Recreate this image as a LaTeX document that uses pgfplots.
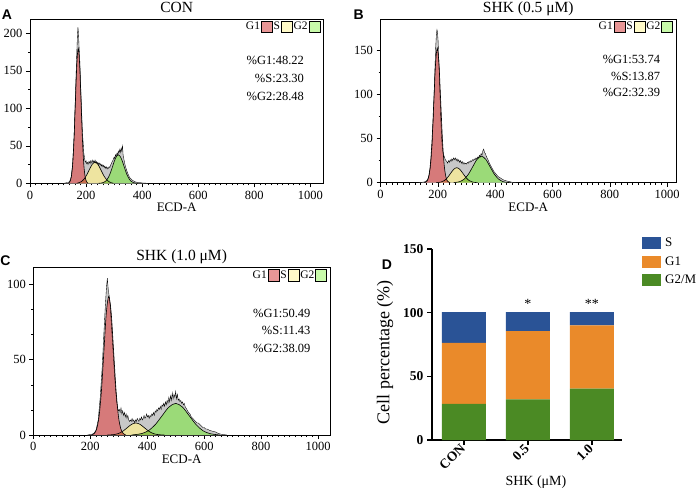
\documentclass[border=0pt]{standalone}
\usepackage{pgfplots}
\pgfplotsset{compat=1.18}
\usepackage{pgfplotstable}
\usepackage{fontspec}
\setmainfont{Liberation Serif}
\newfontfamily\sansf{Liberation Sans}

\definecolor{g1fill}{RGB}{214,122,122}
\definecolor{sfill}{RGB}{238,228,160}
\definecolor{g2fill}{RGB}{155,218,120}
\definecolor{g1leg}{RGB}{232,150,150}
\definecolor{sleg}{RGB}{255,250,200}
\definecolor{g2leg}{RGB}{200,250,170}
\definecolor{histgray}{RGB}{200,200,200}
\definecolor{barS}{RGB}{42,83,150}
\definecolor{barG1}{RGB}{234,138,42}
\definecolor{barG2}{RGB}{75,138,36}

% ---------------- Panel A data ----------------
\pgfplotstableread{
x y
120 0
127 0.5
132 1
137 1
142 3
147 9
152 26
157 62
162 118
166 165
169 196
171 208
173 200
175 182
177 170
182 118
187 68
190 52
192 40
195 33
197 28
200 30
202 26
205 28
207 25
210 29
212 27
215 30
217 26
220 29
222 31
225 27
227 30
230 28
232 31
235 27
237 29
240 26
242 28
245 25
247 27
250 24
252 26
255 23
257 25
260 22
262 24
265 21
267 23
270 20
272 22
275 19
277 21
280 20
282 22
285 21
287 24
290 26
292 28
295 30
297 32
300 35
302 33
305 38
307 36
310 40
312 38
315 43
317 40
320 45
322 41
325 47
327 43
330 50
332 38
335 32
337 28
340 23
345 17
350 12
355 8
360 6
365 4
370 3
375 2
380 1.5
390 1
400 0.5
420 0
}\Ahist
\pgfplotstableread{
x y
137 0
142 2.0
147 7.9
152 24.4
157 58.4
162 109.2
167 158.9
172 180
177 158.9
182 109.2
187 58.4
192 24.4
197 7.9
202 2.0
207 0
}\AGone
\pgfplotstableread{
x y
167 0
177 1.2
182 2.1
187 3.5
192 5.4
197 7.9
202 11.0
207 14.7
212 18.5
217 22.2
222 25.3
227 27.3
232 28
237 27.3
242 25.3
247 22.2
252 18.5
257 14.7
262 11.0
267 7.9
272 5.4
277 3.5
282 2.1
287 1.2
297 0
}\AS
\pgfplotstableread{
x y
245 0
255 0.4
260 0.9
265 1.7
270 3.0
275 5.1
280 8.2
285 12.3
290 17.4
295 23.0
300 28.7
305 33.5
310 36.8
315 38
320 36.8
325 33.5
330 28.7
335 23.0
340 17.4
345 12.3
350 8.2
355 5.1
360 3.0
365 1.7
370 0.9
375 0.4
385 0
}\AGtwo

% ---------------- Panel B data ----------------
\pgfplotstableread{
x y
130 0
145 0.5
155 1
160 2
165 4
170 9
175 20
180 42
185 80
189 120
192 150
195 168
197 173
199 170
201 160
204 135
207 105
210 75
213 52
216 38
219 32
222 30
225 27
228 25
231 24
234 22
237 25
240 23
243 26
246 24
249 27
252 25
255 28
258 26
261 28
264 25
267 27
270 24
273 26
276 23
279 25
282 22
285 24
288 21
291 23
294 21
297 22
300 21
303 23
306 22
309 24
312 23
315 25
318 24
321 26
324 25
327 27
330 26
333 28
336 27
339 29
342 28
345 31
348 29
351 33
354 31
357 36
360 38
363 34
366 33
369 30
372 28
375 26
380 22
385 19
390 16
395 13
400 11
405 9
410 7
415 6
420 5
425 4
430 3
440 2
450 1.2
460 0.5
480 0
}\Bhist
\pgfplotstableread{
x y
153 0
162 1.7
168 6.7
174 20.6
180 49.4
186 92.2
192 134.1
198 152
204 134.1
210 92.2
216 49.4
222 20.6
228 6.7
234 1.7
243 0
}\BGone
\pgfplotstableread{
x y
194 0
200 0.2
211 0.75
222 2.3
233 5.5
244 10.3
255 15.0
266 17
277 15.0
288 10.3
299 5.5
310 2.3
321 0.75
332 0.2
339 0
}\BS
\pgfplotstableread{
x y
255 0
262 0.33
277 1.3
292 4.1
307 9.7
322 18.2
337 26.5
352 30
367 26.5
382 18.2
397 9.7
412 4.1
427 1.3
442 0.33
455 0
}\BGtwo

% ---------------- Panel C data ----------------
\pgfplotstableread{
x y
190 0
205 0.5
212 1
220 3
228 10
235 25
242 45
248 68
253 86
257 98
260 104
263 97
266 93
270 86
274 74
278 62
282 50
286 38
290 28
293 22
296 18
299 16
302 17
305 15
308 18
311 14
314 16
317 13
320 15
323 12
326 14
329 11
332 13
335 10
338 9
341 10
344 9
347 11
350 9
353 10
356 8
359 10
362 9
365 11
368 10
371 9
374 11
377 10
380 12
383 10
386 11
389 13
392 11
395 12
398 14
401 12
404 13
407 11
410 13
413 12
416 14
419 13
422 15
425 13
428 16
431 15
434 17
437 16
440 18
443 17
446 19
449 17
452 20
455 19
458 21
461 19
464 22
467 20
470 23
473 21
476 25
479 22
482 26
485 23
488 28
491 24
494 27
497 25
500 29
503 24
506 27
509 23
512 24
515 22
518 23
521 21
524 22
527 20
530 21
533 19
536 18
539 17
542 16
545 15
550 14
555 12
560 11
565 10
570 9
575 8
580 8
585 7
590 6
595 5
600 5
605 4
610 4
620 3
630 2.5
640 2
650 1
660 0.5
680 0
}\Chist
\pgfplotstableread{
x y
205 0
214 1.0
222.5 4.0
231 12.4
239.5 29.9
248 55.8
256.5 81.2
265 92
273.5 81.2
282 55.8
290.5 29.9
299 12.4
307.5 4.0
316 1.0
325 0
}\CGone
\pgfplotstableread{
x y
260 0
270 0.09
285 0.35
300 1.08
315 2.6
330 4.85
345 7.06
360 8
375 7.06
390 4.85
405 2.6
420 1.08
435 0.35
450 0.09
460 0
}\CS
\pgfplotstableread{
x y
345 0
356 0.23
380 0.92
404 2.84
428 6.82
452 12.7
476 18.5
500 21
524 18.5
548 12.7
572 6.82
596 2.84
620 0.92
644 0.23
655 0
}\CGtwo

\pgfplotsset{
  histax/.style={
    scale only axis, xmin=0, ymin=0,
    axis line style={line width=0.7pt},
    tick pos=left, tick align=outside,
    xtick={0,200,...,1000},
    minor x tick num=9,
    major tick length=4pt, minor tick length=2pt,
    tick style={black, line width=0.5pt},
    tick label style={font=\fontsize{12.5}{15}\selectfont},
    /pgf/number format/assume math mode=true,
    /pgf/number format/1000 sep={},
    scaled ticks=false,
    xlabel={ECD-A},
    xlabel style={font=\fontsize{13}{15}\selectfont, at={(axis description cs:0.5,0)}, anchor=base, yshift=-28.3pt},
    title style={font=\fontsize{15.5}{18}\selectfont, at={(axis description cs:0.5,1)}, anchor=base, yshift=0.3pt},
    legend columns=3, legend plot pos=right,
    legend image code/.code={\draw[##1, draw=black, line width=0.6pt] (0pt,-5.8pt) rectangle (11pt,5.8pt);},
    legend style={draw=none, fill=none, at={(axis description cs:1,1)}, anchor=north east,
      xshift=-3pt, yshift=-1.7pt, inner sep=0pt, outer sep=0pt, column sep=0pt,
      font=\fontsize{11.5}{13}\selectfont, nodes={inner sep=1pt}},
  },
  histfill/.style={fill=histgray, draw=none, forget plot},
  whitefill/.style={fill=white, draw=none, smooth, forget plot},
  curvefill/.style={fill=#1, draw=none, smooth, forget plot, blend mode=multiply},
  curveline/.style={draw=black, line width=0.6pt, smooth, forget plot},
  histline/.style={draw=black, line width=0.35pt, forget plot},
}

\begin{document}
\begin{tikzpicture}
\useasboundingbox (0,0) rectangle (700pt,491pt);

% ---------------- A ----------------
\begin{axis}[histax, at={(30pt,307.7pt)}, anchor=south west,
  width=293.3pt, height=164.3pt, xmax=1046, ymax=219,
  ytick={0,50,100,150,200}, minor y tick num=1, title={CON}]
\addlegendimage{fill=g1leg}\addlegendentry{G1}
\addlegendimage{fill=sleg}\addlegendentry{S}
\addlegendimage{fill=g2leg}\addlegendentry{G2}
\addplot[histfill] table {\Ahist} \closedcycle;
\addplot[whitefill] table {\AGone} \closedcycle;
\addplot[whitefill] table {\AS} \closedcycle;
\addplot[whitefill] table {\AGtwo} \closedcycle;
\addplot[curvefill=g1fill] table {\AGone} \closedcycle;
\addplot[curvefill=sfill] table {\AS} \closedcycle;
\addplot[curvefill=g2fill] table {\AGtwo} \closedcycle;
\addplot[curveline] table {\AGone};
\addplot[curveline] table {\AS};
\addplot[curveline] table {\AGtwo};
\addplot[histline] table {\Ahist};
\node[anchor=east, font=\fontsize{12.5}{15}\selectfont] at (axis description cs:0.946,0.746) {\%G1:48.22};
\node[anchor=east, font=\fontsize{12.5}{15}\selectfont] at (axis description cs:0.946,0.639) {\%S:23.30};
\node[anchor=east, font=\fontsize{12.5}{15}\selectfont] at (axis description cs:0.946,0.527) {\%G2:28.48};
\end{axis}

% ---------------- B ----------------
\begin{axis}[histax, at={(380.5pt,308.3pt)}, anchor=south west,
  width=295.5pt, height=163.7pt, xmax=1031, ymax=185,
  ytick={0,50,100,150}, minor y tick num=1, title={SHK (0.5 μM)}]
\addlegendimage{fill=g1leg}\addlegendentry{G1}
\addlegendimage{fill=sleg}\addlegendentry{S}
\addlegendimage{fill=g2leg}\addlegendentry{G2}
\addplot[histfill] table {\Bhist} \closedcycle;
\addplot[whitefill] table {\BGone} \closedcycle;
\addplot[whitefill] table {\BS} \closedcycle;
\addplot[whitefill] table {\BGtwo} \closedcycle;
\addplot[curvefill=g1fill] table {\BGone} \closedcycle;
\addplot[curvefill=sfill] table {\BS} \closedcycle;
\addplot[curvefill=g2fill] table {\BGtwo} \closedcycle;
\addplot[curveline] table {\BGone};
\addplot[curveline] table {\BS};
\addplot[curveline] table {\BGtwo};
\addplot[histline] table {\Bhist};
\node[anchor=east, font=\fontsize{12.5}{15}\selectfont] at (axis description cs:0.958,0.754) {\%G1:53.74};
\node[anchor=east, font=\fontsize{12.5}{15}\selectfont] at (axis description cs:0.958,0.652) {\%S:13.87};
\node[anchor=east, font=\fontsize{12.5}{15}\selectfont] at (axis description cs:0.958,0.550) {\%G2:32.39};
\end{axis}

% ---------------- C ----------------
\begin{axis}[histax, at={(33.3pt,56pt)}, anchor=south west,
  width=296.7pt, height=167.3pt, xmax=1042, ymax=111,
  ytick={0,50,100}, minor y tick num=2, title={SHK (1.0 μM)},
  title style={yshift=1.4pt}]
\addlegendimage{fill=g1leg}\addlegendentry{G1}
\addlegendimage{fill=sleg}\addlegendentry{S}
\addlegendimage{fill=g2leg}\addlegendentry{G2}
\addplot[histfill] table {\Chist} \closedcycle;
\addplot[whitefill] table {\CGone} \closedcycle;
\addplot[whitefill] table {\CS} \closedcycle;
\addplot[whitefill] table {\CGtwo} \closedcycle;
\addplot[curvefill=g1fill] table {\CGone} \closedcycle;
\addplot[curvefill=sfill] table {\CS} \closedcycle;
\addplot[curvefill=g2fill] table {\CGtwo} \closedcycle;
\addplot[curveline] table {\CGone};
\addplot[curveline] table {\CS};
\addplot[curveline] table {\CGtwo};
\addplot[histline] table {\Chist};
\node[anchor=east, font=\fontsize{12.5}{15}\selectfont] at (axis description cs:0.946,0.727) {\%G1:50.49};
\node[anchor=east, font=\fontsize{12.5}{15}\selectfont] at (axis description cs:0.946,0.623) {\%S:11.43};
\node[anchor=east, font=\fontsize{12.5}{15}\selectfont] at (axis description cs:0.946,0.518) {\%G2:38.09};
\end{axis}

% ---------------- D ----------------
\begin{axis}[at={(432pt,51pt)}, anchor=south west, scale only axis,
  width=190pt, height=191pt,
  ybar stacked, bar width=44pt,
  xmin=-0.5, xmax=2.47, ymin=0, ymax=150,
  axis x line*=bottom, axis y line*=left,
  axis line style={line width=1.8pt, -},
  xtick={0,1,2}, xticklabels={CON,0.5,1.0},
  ytick={0,50,100,150},
  tick align=outside, major tick length=5pt,
  tick style={line width=1.5pt, black},
  xticklabel style={rotate=45, anchor=east, inner sep=1.5pt, font=\fontsize{13.5}{16}\selectfont\bfseries},
  yticklabel style={font=\fontsize{13.5}{16}\selectfont\bfseries},
  /pgf/number format/assume math mode=true,
  ylabel={Cell percentage (\%)},
  ylabel style={font=\fontsize{18}{20}\selectfont, at={(axis description cs:-0.247,0.46)}, anchor=center},
  xlabel={SHK (μM)},
  xlabel style={font=\fontsize{14}{16}\selectfont, at={(axis description cs:0.547,-0.218)}, anchor=center},
  reverse legend,
  legend cell align=left,
  legend image code/.code={\fill[#1] (0pt,-6pt) rectangle (19pt,6pt);},
  legend style={at={(axis description cs:1.105,1.063)}, anchor=north west, draw=none, fill=none,
    inner sep=0pt, row sep=6.5pt, nodes={inner sep=0pt}, font=\fontsize{13}{15}\selectfont,
    /tikz/every odd column/.style={column sep=4pt}},
]
\addplot[fill=barG2, draw=none] coordinates {(0,28.3) (1,32.0) (2,40.3)};
\addplot[fill=barG1, draw=none] coordinates {(0,48.0) (1,53.5) (2,49.7)};
\addplot[fill=barS, draw=none] coordinates {(0,24.1) (1,15.0) (2,10.5)};
\legend{G2/M,G1,S}
\node[font=\fontsize{14}{16}\selectfont] at (axis cs:1,107) {*};
\node[font=\fontsize{14}{16}\selectfont] at (axis cs:2,107) {**};
\end{axis}

% panel letters
\node[font=\sansf\bfseries\fontsize{14}{16}\selectfont] at (7pt,476.7pt) {A};
\node[font=\sansf\bfseries\fontsize{14}{16}\selectfont] at (358.7pt,476.3pt) {B};
\node[font=\sansf\bfseries\fontsize{14}{16}\selectfont] at (5.5pt,230.5pt) {C};
\node[font=\sansf\bfseries\fontsize{14}{16}\selectfont] at (387pt,226pt) {D};
\end{tikzpicture}
\end{document}
